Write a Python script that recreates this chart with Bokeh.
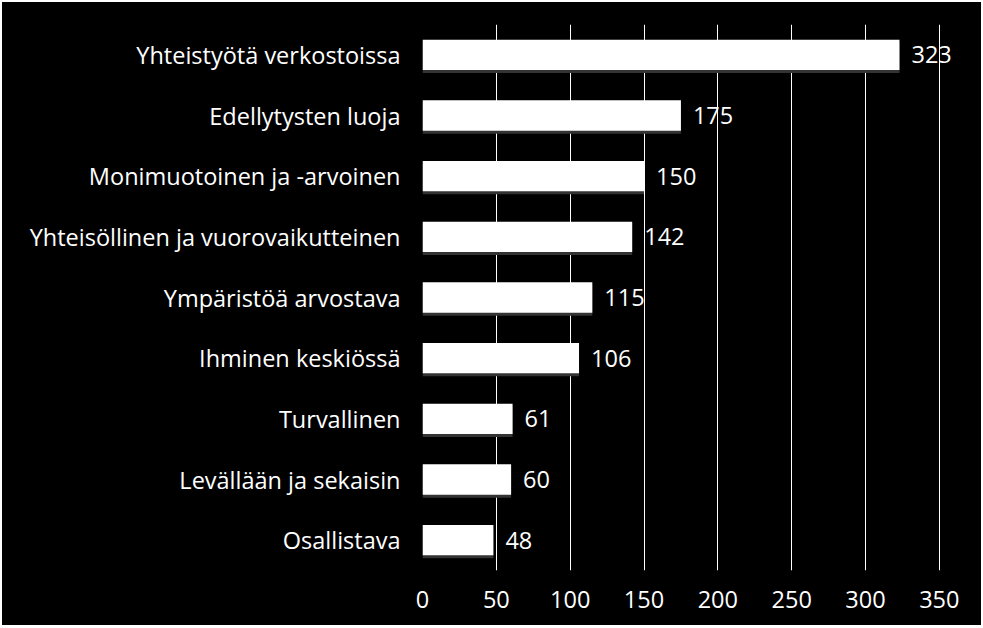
from bokeh.plotting import figure
from bokeh.models import ColumnDataSource, Range1d, FactorRange, FixedTicker
from bokeh.transform import dodge
from bokeh.core.properties import value
from bokeh.embed import file_html
from bokeh.resources import INLINE

categories = ["Yhteistyötä verkostoissa", "Edellytysten luoja", "Monimuotoinen ja -arvoinen",
              "Yhteisöllinen ja vuorovaikutteinen", "Ympäristöä arvostava", "Ihminen keskiössä",
              "Turvallinen", "Levällään ja sekaisin", "Osallistava"]
counts = [323, 175, 150, 142, 115, 106, 61, 60, 48]
x_ticks = [0, 50, 100, 150, 200, 250, 300, 350]

FONT = "Open Sans"
FS = "23.5px"
src = ColumnDataSource(dict(cat=categories, val=counts, lbl=[str(v) for v in counts]))

p = figure(width=979, height=623, output_backend="svg", toolbar_location=None,
           y_range=FactorRange(factors=list(reversed(categories))),
           x_range=Range1d(0, 365),
           background_fill_color="black", border_fill_color="black",
           outline_line_color=None,
           min_border_left=420, min_border_right=20, min_border_top=22, min_border_bottom=55,
           styles={"background-color": "black", "margin-left": "2px", "margin-top": "2px"})

# shadow
p.hbar(y=dodge("cat", -0.05, range=p.y_range), right="val", left=0, height=0.5, source=src,
       fill_color="#333333", line_color=None)
p.hbar(y="cat", right="val", left=0, height=0.5, source=src, fill_color="white", line_color=None)

p.text(x="val", y="cat", text="lbl", source=src, x_offset=12, text_baseline="middle",
       text_align="left", text_color="white", text_font=value(FONT), text_font_size=FS)

p.xgrid.ticker = FixedTicker(ticks=x_ticks)
p.xgrid.grid_line_color = "white"
p.xgrid.grid_line_width = 1
p.ygrid.grid_line_color = None

p.xaxis.ticker = FixedTicker(ticks=x_ticks)
for ax in (p.xaxis[0], p.yaxis[0]):
    ax.axis_line_color = None
    ax.major_tick_line_color = None
    ax.minor_tick_line_color = None
    ax.major_label_text_color = "white"
    ax.major_label_text_font = FONT
    ax.major_label_text_font_size = FS
p.xaxis.major_label_standoff = 14
p.yaxis.major_label_standoff = 16

html = file_html(p, INLINE)
html = html.replace("<body>", '<body style="margin:0;background:#ffffff">', 1)
open("out.html", "w").write(html)
